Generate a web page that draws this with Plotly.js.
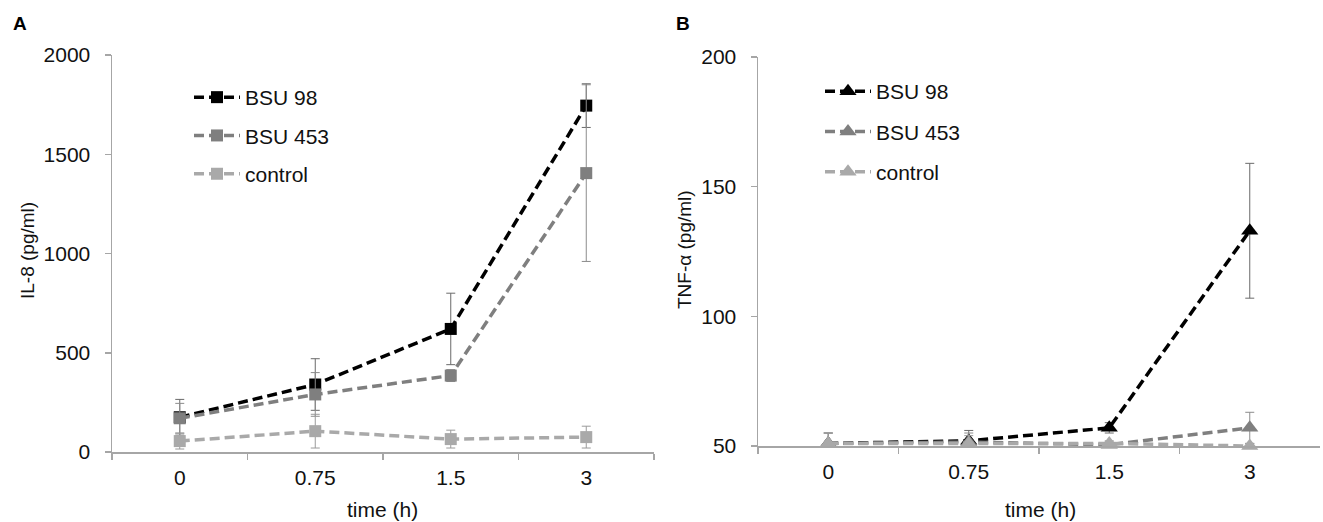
<!DOCTYPE html>
<html>
<head>
<meta charset="utf-8">
<script src="https://cdn.plot.ly/plotly-3.0.1.min.js"></script>
<style>html,body{margin:0;padding:0;background:#fff;}#chart{width:1323px;height:522px;}</style>
</head>
<body>
<div id="chart"></div>
<script>
// ---- data ----
var timeLabels = ['0', '0.75', '1.5', '3'];
var seriesNames = ['BSU 98', 'BSU 453', 'control'];

// Panel A: IL-8 (pg/ml)
var il8Bsu98 = [175, 340, 620, 1745];
var il8Bsu98Err = [90, 130, 180, 110];
var il8Bsu453 = [170, 290, 385, 1405];
var il8Bsu453Err = [75, 110, 30, 445];
var il8Control = [55, 105, 65, 75];
var il8ControlErr = [40, 85, 45, 55];

// Panel B: TNF-α (pg/ml)
var tnfBsu98 = [51, 52, 57, 133];
var tnfBsu98Err = [4, 4, 2, 26];
var tnfBsu453 = [51, 51.5, 50.5, 57];
var tnfBsu453Err = [4, 3.5, 1, 6];
var tnfControl = [51, 51, 51, 50];
var tnfControlErr = [4, 3, 1, 1];

// ---- styling ----
var FONT = 'Liberation Sans, Arial, sans-serif';
var FS = 21;
var lineColors = ['#000000', '#7f7f7f', '#a9a9a9'];
var errColors = ['#6a6a6a', '#8c8c8c', '#9a9a9a'];
var DASH = '10px,5px';

function mk(y, err, i, panel) {
  var isA = panel === 'A';
  return {
    type: 'scatter', mode: 'lines+markers',
    x: timeLabels, y: y,
    name: seriesNames[i],
    legendgroup: panel + i,
    legend: isA ? 'legend' : 'legend2',
    xaxis: isA ? 'x' : 'x2', yaxis: isA ? 'y' : 'y2',
    cliponaxis: false,
    line: {color: lineColors[i], width: 3.5, dash: DASH},
    marker: {symbol: isA ? 'square' : 'triangle-up', size: isA ? 12 : 15, color: lineColors[i]},
    error_y: {type: 'data', array: err, visible: true, color: errColors[i], thickness: 1, width: 4.5}
  };
}

var data = [
  mk(il8Bsu98, il8Bsu98Err, 0, 'A'),
  mk(il8Bsu453, il8Bsu453Err, 1, 'A'),
  mk(il8Control, il8ControlErr, 2, 'A'),
  mk(tnfBsu98, tnfBsu98Err, 0, 'B'),
  mk(tnfBsu453, tnfBsu453Err, 1, 'B'),
  mk(tnfControl, tnfControlErr, 2, 'B')
];

var W = 1323, H = 522;
function px(x) { return x / W; }
function py(y) { return 1 - y / H; }

var axisLine = '#a6a6a6';
var xBase = {
  type: 'category', range: [-0.5, 3.5], showgrid: false, zeroline: false,
  showline: true, linecolor: axisLine, linewidth: 1.5,
  ticks: 'outside', tickson: 'boundaries', ticklen: 6, tickcolor: axisLine, tickwidth: 1.5,
  tickfont: {family: FONT, size: FS, color: '#111'}, ticklabelstandoff: 6,
  fixedrange: true
};
var yBase = {
  showgrid: false, zeroline: false,
  showline: true, linecolor: axisLine, linewidth: 1.5,
  ticks: 'outside', ticklen: 6, tickcolor: axisLine, tickwidth: 1.5,
  tickfont: {family: FONT, size: FS, color: '#111'}, ticklabelstandoff: 10,
  fixedrange: true
};

var legBase = {
  font: {family: FONT, size: FS, color: '#111'},
  bgcolor: 'rgba(0,0,0,0)', traceorder: 'grouped',
  xanchor: 'left', yanchor: 'top', itemwidth: 46
};

var layout = {
  width: W, height: H,
  margin: {l: 0, r: 0, t: 0, b: 0},
  paper_bgcolor: '#fff', plot_bgcolor: 'rgba(0,0,0,0)',
  font: {family: FONT, size: FS, color: '#111'},
  showlegend: true,
  xaxis: Object.assign({}, xBase, {domain: [px(112), px(654)], anchor: 'y'}),
  yaxis: Object.assign({}, yBase, {domain: [py(452), py(55)], anchor: 'x', range: [0, 2000], tickvals: [0, 500, 1000, 1500, 2000]}),
  xaxis2: Object.assign({}, xBase, {domain: [px(758), px(1320)], anchor: 'y2'}),
  yaxis2: Object.assign({}, yBase, {domain: [py(446), py(57)], anchor: 'x2', range: [50, 200], tickvals: [50, 100, 150, 200]}),
  legend: Object.assign({}, legBase, {x: px(189), y: py(77), tracegroupgap: 8}),
  legend2: Object.assign({}, legBase, {x: px(820), y: py(71), tracegroupgap: 10}),
  annotations: [
    {text: '<b>A</b>', x: px(11), y: py(24), xref: 'paper', yref: 'paper', xanchor: 'left', yanchor: 'middle', showarrow: false, font: {family: FONT, size: 19, color: '#000'}},
    {text: '<b>B</b>', x: px(674), y: py(24), xref: 'paper', yref: 'paper', xanchor: 'left', yanchor: 'middle', showarrow: false, font: {family: FONT, size: 19, color: '#000'}},
    {text: 'IL-8 (pg/ml)', x: px(27), y: py(250), xref: 'paper', yref: 'paper', textangle: -90, xanchor: 'center', yanchor: 'middle', showarrow: false, font: {family: FONT, size: 19, color: '#111'}},
    {text: 'TNF-α (pg/ml)', x: px(684), y: py(250), xref: 'paper', yref: 'paper', textangle: -90, xanchor: 'center', yanchor: 'middle', showarrow: false, font: {family: FONT, size: 19, color: '#111'}},
    {text: 'time (h)', x: px(382), y: py(509), xref: 'paper', yref: 'paper', xanchor: 'center', yanchor: 'middle', showarrow: false, font: {family: FONT, size: FS, color: '#111'}},
    {text: 'time (h)', x: px(1040), y: py(509), xref: 'paper', yref: 'paper', xanchor: 'center', yanchor: 'middle', showarrow: false, font: {family: FONT, size: FS, color: '#111'}}
  ]
};

Plotly.newPlot('chart', data, layout, {displayModeBar: false, staticPlot: true});
</script>
</body>
</html>
